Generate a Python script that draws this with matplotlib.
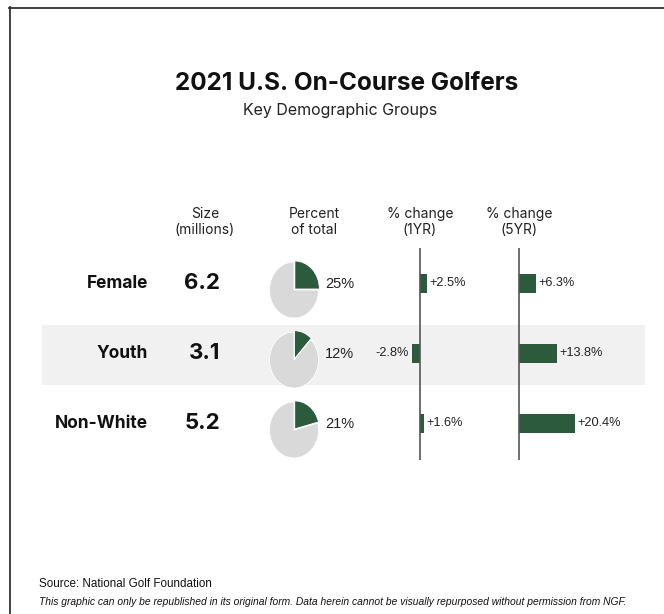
import matplotlib
matplotlib.use("Agg")
import matplotlib.pyplot as plt
from matplotlib.patches import Rectangle
from matplotlib.lines import Line2D

# ---------------- data ----------------
groups = ["Female", "Youth", "Non-White"]
size_millions = [6.2, 3.1, 5.2]
percent_total = [25, 12, 21]
change_1yr = [2.5, -2.8, 1.6]
change_5yr = [6.3, 13.8, 20.4]
col_headers = ["Size\n(millions)", "Percent\nof total", "% change\n(1YR)", "% change\n(5YR)"]
title = "2021 U.S. On-Course Golfers"
subtitle = "Key Demographic Groups"
source = "Source: National Golf Foundation"
note = ("This graphic can only be republished in its original form. Data herein cannot be "
        "visually repurposed without permission from NGF.")

GREEN = "#2b5a3c"
GRAY = "#d9d9d9"
BAND = "#f1f1f1"
AXIS = "#555555"

W, H = 664, 614
fig = plt.figure(figsize=(W / 100, H / 100), dpi=100)
fig.patch.set_facecolor("white")


def fx(x):
    return x / W


def fy(y):
    return 1 - y / H


def ax_px(x0, y0, x1, y1):
    a = fig.add_axes([x0 / W, 1 - y1 / H, (x1 - x0) / W, (y1 - y0) / H])
    a.set_facecolor("none")
    a.axis("off")
    return a


HEAD = "Inter"
BODY = "Liberation Sans"

# border
fig.add_artist(Line2D([fx(9), fx(664)], [fy(7.5), fy(7.5)], color="#333333", lw=1.3,
                      transform=fig.transFigure))
fig.add_artist(Line2D([fx(9.5), fx(9.5)], [fy(7), fy(614)], color="#333333", lw=1.3,
                      transform=fig.transFigure))

# titles
fig.text(fx(347), fy(84), title, ha="center", va="center", fontsize=17.5,
         fontweight="bold", family=HEAD, color="#111111")
fig.text(fx(340), fy(111), subtitle, ha="center", va="center", fontsize=11.5,
         family=HEAD, color="#222222")

# column headers
header_x = [205, 314, 420, 519]
for hx, h in zip(header_x, col_headers):
    fig.text(fx(hx), fy(222), h, ha="center", va="center", fontsize=10,
             family=HEAD, color="#222222", linespacing=1.15)

row_y = [283, 353, 423]

# youth band
fig.add_artist(Rectangle((fx(42), fy(385)), fx(645) - fx(42), fy(325) - fy(385),
                         transform=fig.transFigure, facecolor=BAND, edgecolor="none",
                         zorder=-5))

# row labels and sizes
for g, s, y in zip(groups, size_millions, row_y):
    fig.text(fx(148), fy(y), g, ha="right", va="center", fontsize=12.5,
             fontweight="bold", family=HEAD, color="#111111")
    fig.text(fx(220), fy(y), f"{s:.1f}", ha="right", va="center", fontsize=16,
             fontweight="bold", family=HEAD, color="#111111")

# pies
for p, y in zip(percent_total, row_y):
    cx, cy = 294, y + 7
    pw, ph = 49 * 1.1, 56 * 1.1
    pa = ax_px(cx - pw / 2, cy - ph / 2, cx + pw / 2, cy + ph / 2)
    pa.pie([p, 100 - p], startangle=90, counterclock=False, colors=[GREEN, GRAY],
           explode=[0.05, 0], wedgeprops=dict(edgecolor="white", linewidth=0.6))
    pa.set_aspect("auto")
    pa.set_xlim(-1.1, 1.1)
    pa.set_ylim(-1.1, 1.1)
    fig.text(fx(325), fy(y + 1), f"{p}%", ha="left", va="center", fontsize=10.5,
             family=BODY, color="#222222")


# bar charts
def bar_panel(x0, x1, zero_x, px_per_unit, vals):
    a = ax_px(x0, 248, x1, 460)
    a.set_xlim(-(zero_x - x0) / px_per_unit, (x1 - zero_x) / px_per_unit)
    ypos = list(range(len(vals)))
    a.set_ylim(len(vals) - 1 + 37 / 70, -35 / 70)
    a.barh(ypos, vals, height=19 / 70, color=GREEN, zorder=2)
    a.axvline(0, color=AXIS, lw=1.2, zorder=3)
    for v, yy in zip(vals, ypos):
        if v >= 0:
            a.annotate(f"{v:+.1f}%", (v, yy), xytext=(2, 0), textcoords="offset pixels",
                       ha="left", va="center", fontsize=9.2, family=BODY, color="#222222")
        else:
            a.annotate(f"{v:.1f}%", (v, yy), xytext=(-3, 0), textcoords="offset pixels",
                       ha="right", va="center", fontsize=9.2, family=BODY, color="#222222")
    return a


bar_panel(370, 490, 420, 2.8, change_1yr)
bar_panel(500, 640, 519, 2.75, change_5yr)

# footer
fig.text(fx(39), fy(584), source, ha="left", va="center", fontsize=8.4,
         family=BODY, color="#111111")
fig.text(fx(39), fy(602), note, ha="left", va="center", fontsize=7.4,
         family=BODY, style="italic", color="#111111")

fig.savefig("out.png", dpi=100)
